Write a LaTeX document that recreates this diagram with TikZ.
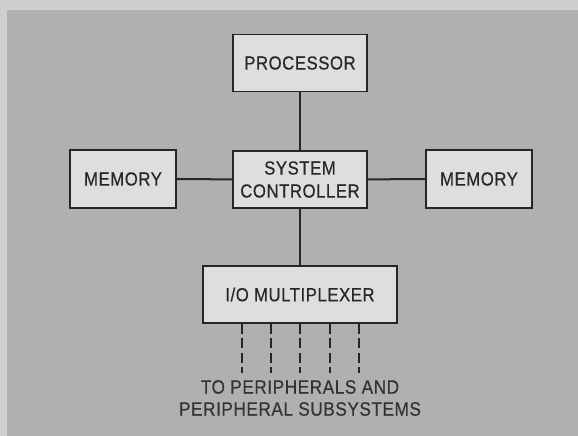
\documentclass[tikz,border=0pt]{standalone}
\usepackage{fontspec}
\setmainfont{Liberation Sans}[FakeStretch=0.88,FakeBold=0.4,LetterSpace=3]
\begin{document}
\begin{tikzpicture}[x=1pt,y=-1pt,
  box/.style={draw=black!85,line width=1.6pt,fill=boxfill,minimum height=57pt,
    inner sep=0pt,align=center,text=black!85,font=\fontsize{19}{23}\selectfont},
  conn/.style={draw=black!85,line width=2pt},
  dconn/.style={draw=black!85,line width=2.5pt,dash pattern=on 10pt off 4.5pt},
  lbl/.style={text=black!80,align=center,font=\fontsize{19.5}{22}\selectfont}]
\definecolor{bg}{HTML}{B0B0B0}
\definecolor{boxfill}{HTML}{DEDEDE}
\definecolor{edge}{HTML}{CFCFCF}
\useasboundingbox (0,0) rectangle (578,436);
\fill[bg] (0,0) rectangle (578,436);
\fill[edge] (0,0) rectangle (578,10);
\fill[edge] (0,0) rectangle (7,436);
\node[box,minimum width=134pt] (proc) at (300,63) {PROCESSOR};
\node[box,minimum width=134pt] (ctrl) at (300,179.5) {SYSTEM\\CONTROLLER};
\node[box,minimum width=106pt,minimum height=58pt] (meml) at (123,179) {MEMORY};
\node[box,minimum width=106pt,minimum height=58pt] (memr) at (479,179) {MEMORY};
\node[box,minimum width=194pt] (mux) at (300,294.5) {I/O MULTIPLEXER};
\draw[conn] (proc) -- (ctrl);
\draw[conn] (meml) -- (ctrl);
\draw[conn] (ctrl) -- (memr);
\draw[conn] (ctrl) -- (mux);
\foreach \i/\x in {1/242,2/271,3/300,4/330,5/359}{
  \coordinate (d\i) at (\x,373);
  \draw[dconn] (mux.south -| d\i) -- (d\i);
}
\node[lbl] (txt) at (300,398) {TO PERIPHERALS AND\\PERIPHERAL SUBSYSTEMS};
\end{tikzpicture}
\end{document}
